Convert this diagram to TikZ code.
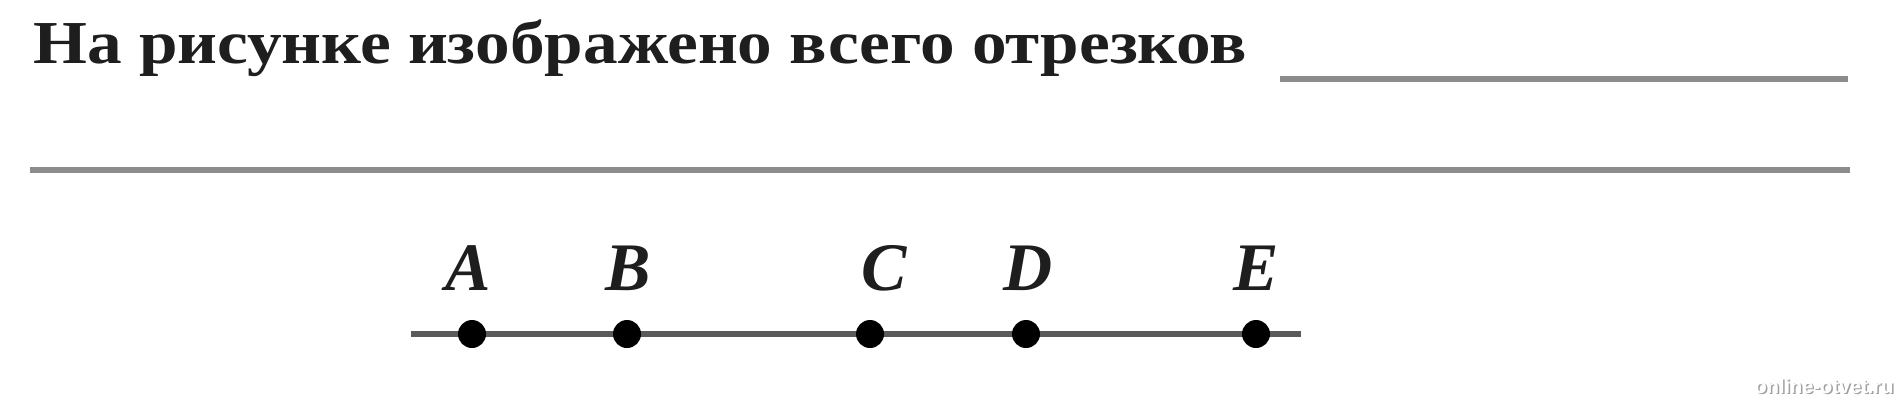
\documentclass[tikz,border=0pt]{standalone}
\usepackage{fontspec}
\usepackage{graphicx}
\setmainfont{Liberation Serif}
\newfontfamily\wmfont{Liberation Sans}
\definecolor{inkdark}{HTML}{1E1E1E}
\definecolor{rulegray}{HTML}{8C8C8C}
\definecolor{segline}{HTML}{5A5A5A}
\definecolor{wmshadow}{HTML}{A0A0A0}
\begin{document}
\begin{tikzpicture}[x=1pt,y=-1pt,
  titletext/.style={anchor=base west, inner sep=0pt, text=inkdark,
    font=\fontsize{61}{63}\selectfont\bfseries},
  answerline/.style={draw=rulegray, line width=6.5pt},
  segmentline/.style={draw=segline, line width=6.5pt},
  pointdot/.style={circle, fill=black, inner sep=0pt, minimum size=28pt},
  pointname/.style={anchor=base, inner sep=0pt, text=inkdark,
    font=\fontsize{68}{70}\selectfont\bfseries\itshape},
  wmtext/.style={inner sep=0pt, font=\wmfont\bfseries\fontsize{20}{21}\selectfont}]
\useasboundingbox[fill=white] (0,0) rectangle (1901,400);
% title
\node[titletext] (title) at (33,63)
  {\resizebox{1214pt}{\height}{На рисунке изображено всего отрезков}};
% answer lines
\coordinate (u1) at (1280,79);
\coordinate (u2) at (1848,79);
\draw[answerline] (u1) -- (u2);
\coordinate (v1) at (30,170);
\coordinate (v2) at (1850,170);
\draw[answerline] (v1) -- (v2);
% segment line
\coordinate (s1) at (411,334);
\coordinate (s2) at (1301,334);
\draw[segmentline] (s1) -- (s2);
% points
\node[pointdot] (A) at (472,334) {};
\node[pointdot] (B) at (627,334) {};
\node[pointdot] (C) at (870,334) {};
\node[pointdot] (D) at (1026,334) {};
\node[pointdot] (E) at (1256,334) {};
% labels
\node[pointname] (lA) at (468,290) {A};
\node[pointname] (lB) at (628,290) {B};
\node[pointname] (lC) at (884,290) {C};
\node[pointname] (lD) at (1028,290) {D};
\node[pointname] (lE) at (1256,290) {E};
% watermark
\node[wmtext, text=wmshadow] (wms) at (1825.5,387.5) {online-otvet.ru};
\node[wmtext, text=white] (wm) at (1824,386) {online-otvet.ru};
\end{tikzpicture}
\end{document}
